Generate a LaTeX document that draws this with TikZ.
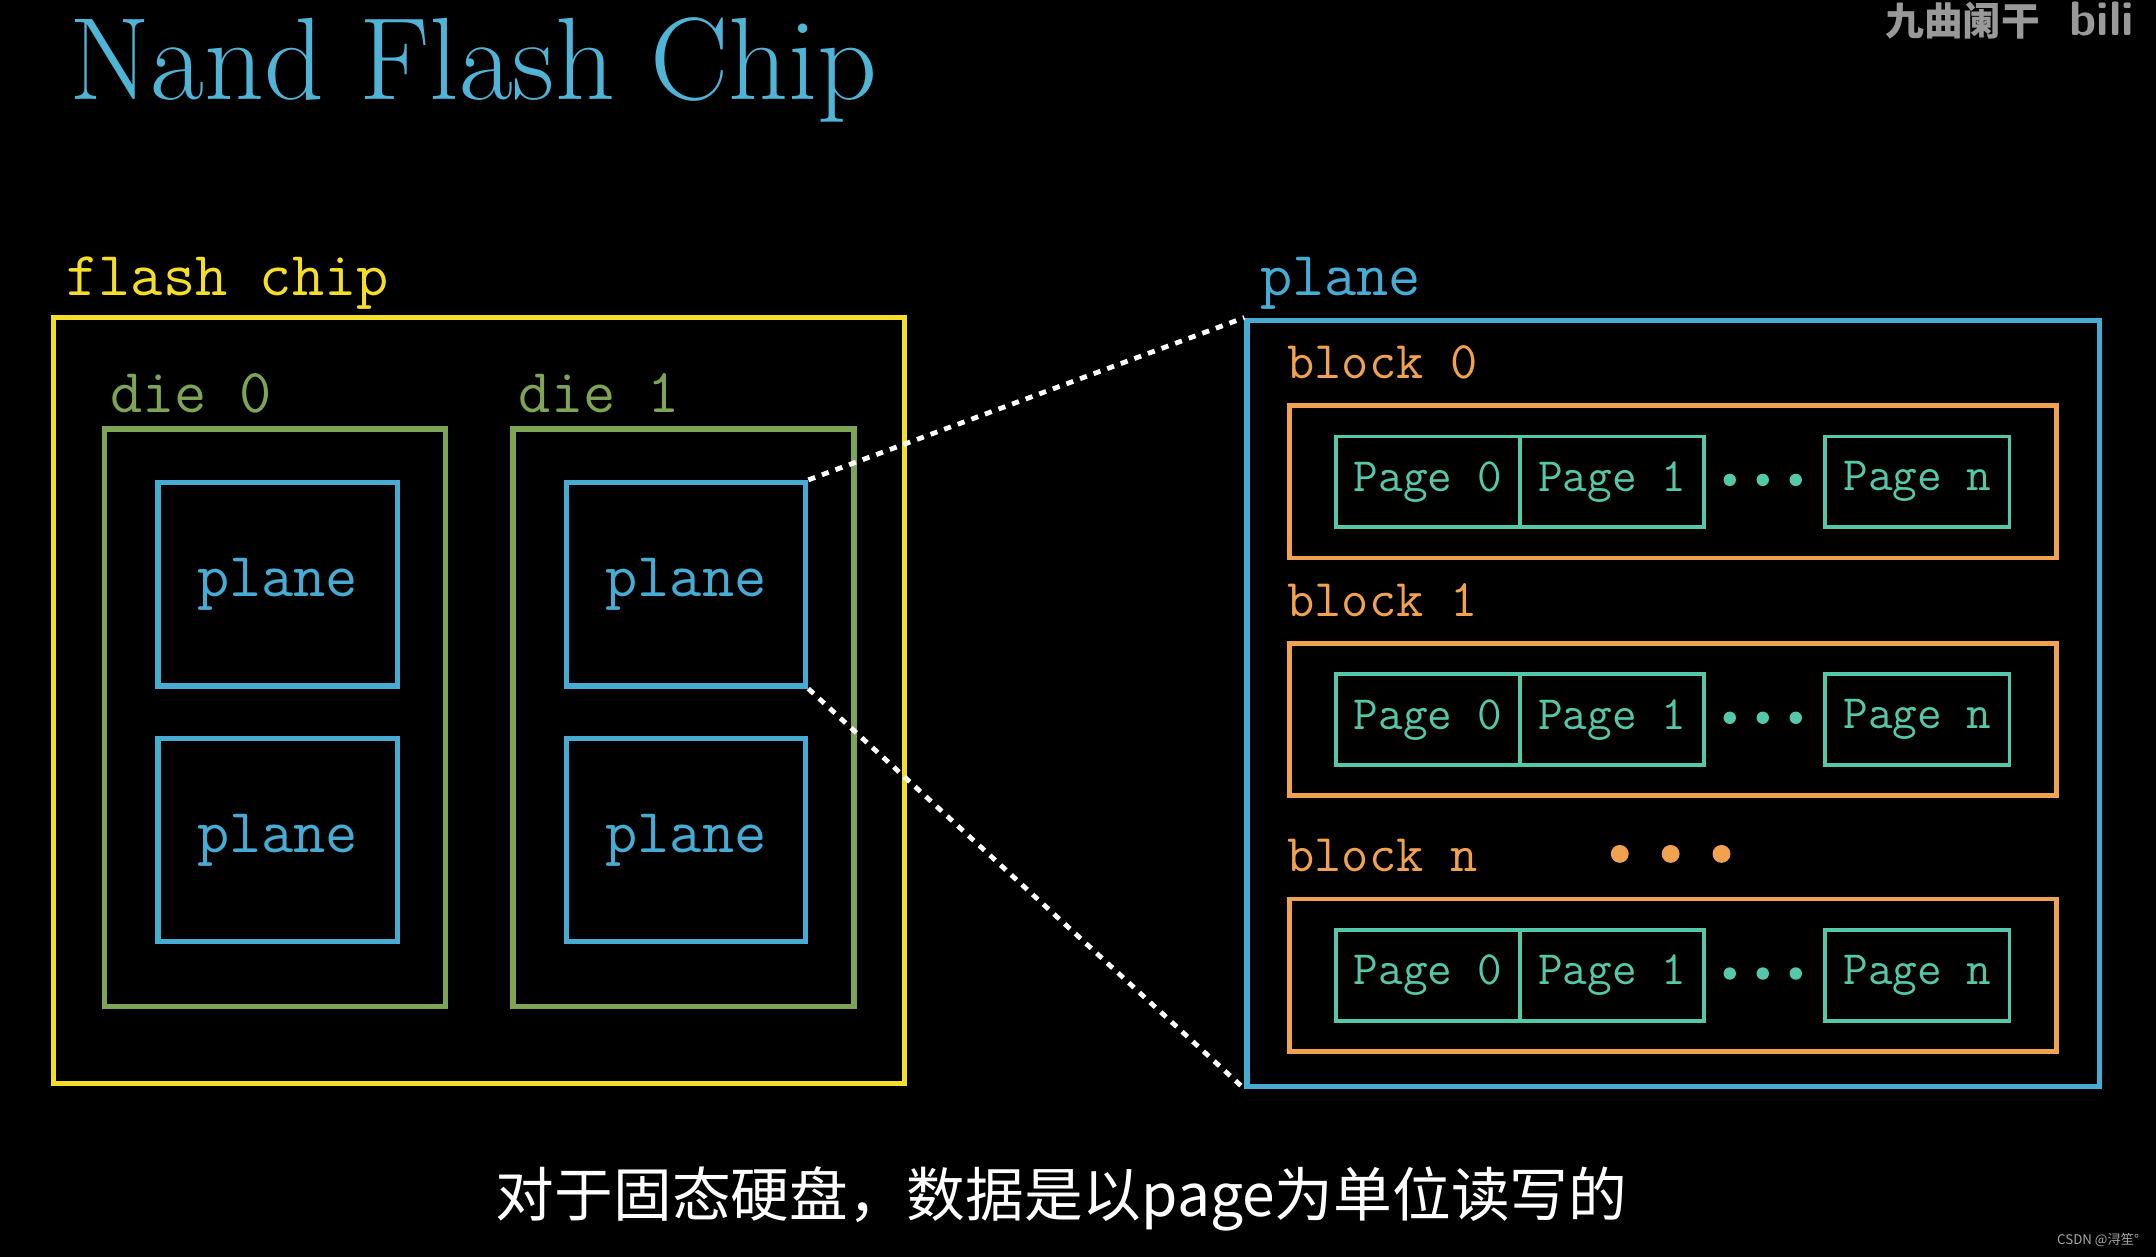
\documentclass[tikz,border=0pt]{standalone}
\usepackage{fontspec}
\newfontfamily\cjk{Noto Sans CJK SC}
\begin{document}
\definecolor{ttl}{RGB}{80,180,215}
\definecolor{ylw}{RGB}{245,222,40}
\definecolor{grn}{RGB}{125,165,85}
\definecolor{blu}{RGB}{70,172,212}
\definecolor{org}{RGB}{240,162,80}
\definecolor{tea}{RGB}{85,200,170}
\begin{tikzpicture}[x=0.02cm,y=-0.02cm,
  box/.style={draw,line width=2.2pt,inner sep=0},
  lab/.style={anchor=base west,inner sep=0,font=\ttfamily\fontsize{25.9}{30}\selectfont},
  blab/.style={anchor=base west,inner sep=0,font=\ttfamily\fontsize{21.9}{26}\selectfont,text=org},
  pg/.style={draw=tea,line width=1.6pt,text=tea,font=\ttfamily\fontsize{19.8}{24}\selectfont,minimum width=134*0.02cm,minimum height=66*0.02cm,inner sep=0},
  pdot/.style={circle,fill=tea,inner sep=0,minimum size=9*0.02cm},
  odot/.style={circle,fill=org,inner sep=0,minimum size=13*0.02cm},
  lnk/.style={white,line width=2pt,dash pattern=on 3pt off 3pt}]
\fill[black] (0,0) rectangle (1568,914);
\useasboundingbox (0,0) rectangle (1568,914);
\node[anchor=base west,inner sep=0,text=ttl,font=\fontsize{48.5}{52}\selectfont] (title) at (50,72) {Nand Flash Chip};
\node[anchor=base east,inner sep=0,text=gray!80,font=\cjk\bfseries\fontsize{16}{20}\selectfont] (wm) at (1484,26) {九曲阑干};
\node[anchor=base west,inner sep=0,text=gray!80,font=\sffamily\bfseries\fontsize{20}{26}\selectfont] (bili) at (1505,26) {bili};
% flash chip
\node[lab,text=ylw] (fcl) at (48,215) {flash chip};
\draw[ylw,line width=2.2pt] (39,231) rectangle (658,788);
\node[lab,text=grn] (d0l) at (80,300) {die 0};
\node[lab,text=grn] (d1l) at (377,300) {die 1};
\draw[grn,line width=2.2pt] (76,312) rectangle (324,732);
\draw[grn,line width=2.2pt] (373,312) rectangle (621,732);
\foreach \n/\x/\y in {p1/113/349,p2/113/535,p3/410/349,p4/410/535}{
  \node[box,draw=blu,text=blu,font=\ttfamily\fontsize{25.9}{30}\selectfont,minimum width=174*0.02cm,minimum height=148*0.02cm,anchor=north west] (\n) at (\x,\y) {plane};
}
% right plane
\node[lab,text=blu] (pl) at (916,215) {plane};
\node[box,draw=blu,minimum width=620*0.02cm,minimum height=557*0.02cm,anchor=north west] (P) at (905,231) {};
\draw[lnk] (p3.north east) -- (P.north west);
\draw[lnk] (p3.south east) -- (P.south west);
\foreach \b/\t/\lbl in {0/293/block 0,1/466/block 1,n/652/block n}{
  \node[blab] (bl\b) at (936,\t-18) {\lbl};
  \node[box,draw=org,line width=2pt,minimum width=558*0.02cm,minimum height=111*0.02cm,anchor=north west] (B\b) at (936,\t) {};
  \node[pg,anchor=north west] (a\b) at (970,\t+23) {Page 0};
  \node[pg,anchor=north west] (b\b) at (1104,\t+23) {Page 1};
  \node[pg,anchor=north west] (c\b) at (1326,\t+23) {Page n};
  \node[pdot] (d1\b) at (1258,\t+56) {};
  \node[pdot] (d2\b) at (1282,\t+56) {};
  \node[pdot] (d3\b) at (1306,\t+56) {};
}
\node[odot] (o1) at (1178,621) {};
\node[odot] (o2) at (1215,621) {};
\node[odot] (o3) at (1252,621) {};
\node[anchor=base,inner sep=0,text=white,font=\cjk\fontsize{24.3}{30}\selectfont] (sub) at (772,885) {对于固态硬盘，数据是以page为单位读写的};
\node[anchor=base east,inner sep=0,text=gray!70,font=\cjk\fontsize{5.5}{6}\selectfont] (csdn) at (1556,905) {CSDN @浔笙°};
\end{tikzpicture}
\end{document}
